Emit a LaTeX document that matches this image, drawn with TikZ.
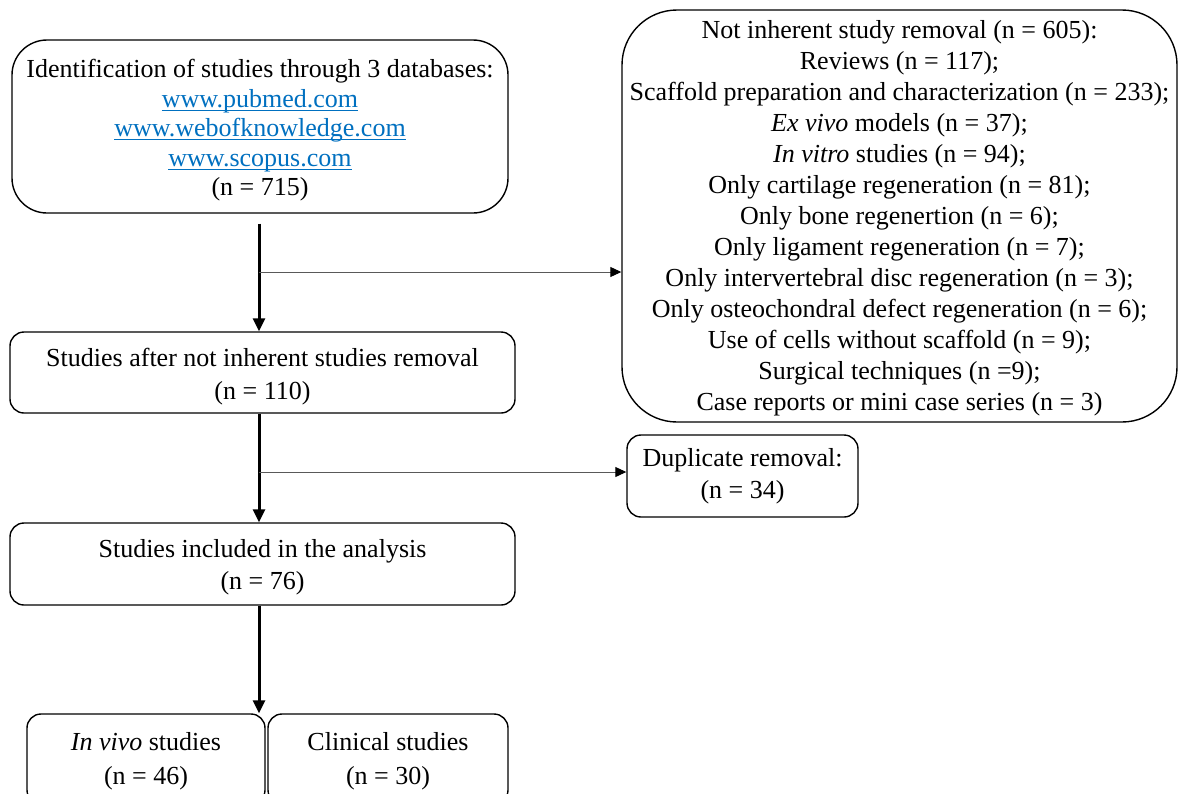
\documentclass[tikz,border=0pt]{standalone}
\usepackage{fontspec}
\setmainfont{Liberation Serif}
\usetikzlibrary{arrows.meta,calc}
\definecolor{linkblue}{RGB}{0,112,192}
\newcommand{\lnk}[1]{\textcolor{linkblue}{\setbox0\hbox{#1}\rlap{\rule[-3.5pt]{\wd0}{1.1pt}}\box0}}
\newcommand{\pushdown}[1]{\rule{0pt}{#1}}
\begin{document}
\begin{tikzpicture}[x=1pt,y=1pt,
  box/.style={draw, line width=1.4pt, rounded corners=#1, align=center, inner sep=0pt,
    font=\fontsize{26}{29.5}\selectfont},
  thk/.style={line width=3pt, -{Triangle[length=13pt,width=12pt]}},
  thn/.style={line width=1pt, draw=black!65, -{Triangle[length=11pt,width=10pt,color=black]}}]
\clip (0,0) rectangle (1180,-793);
\fill[white] (0,0) rectangle (1180,-793);
\coordinate (col) at (259,0);
\node[box=35pt, minimum width=496pt, minimum height=173pt] (ident) at (260,-126.5)
  {\pushdown{26pt}Identification of studies through 3 databases:\\ \lnk{www.pubmed.com}\\ \lnk{www.webofknowledge.com}\\ \lnk{www.scopus.com}\\ (n = 715)};
\node[box=55pt, minimum width=555pt, minimum height=412pt, font=\fontsize{26}{31}\selectfont] (big) at (899.5,-216)
  {\pushdown{22pt}Not inherent study removal (n = 605):\\ Reviews (n = 117);\\ Scaffold preparation and characterization (n = 233);\\
   \textit{Ex vivo} models (n = 37);\\ \textit{In vitro} studies (n = 94);\\ Only cartilage regeneration (n = 81);\\
   Only bone regenertion (n = 6);\\ Only ligament regeneration (n = 7);\\ Only intervertebral disc regeneration (n = 3);\\
   Only osteochondral defect regeneration (n = 6);\\ Use of cells without scaffold (n = 9);\\ Surgical techniques (n =9);\\
   Case reports or mini case series (n = 3)};
\node[box=14pt, minimum width=505pt, minimum height=81pt, font=\fontsize{26}{33}\selectfont] (box2) at (262.5,-372.5)
  {\pushdown{26pt}Studies after not inherent studies removal\\ (n = 110)};
\node[box=14pt, minimum width=231pt, minimum height=82pt, font=\fontsize{26}{32}\selectfont] (dup) at (742.5,-476)
  {Duplicate removal:\\ (n = 34)};
\node[box=14pt, minimum width=505pt, minimum height=82pt, font=\fontsize{26}{32}\selectfont] (box3) at (262.5,-564)
  {\pushdown{24pt}Studies included in the analysis\\ (n = 76)};
\node[box=14pt, minimum width=238pt, minimum height=90pt, font=\fontsize{26}{34}\selectfont] (invivo) at (146,-759)
  {\pushdown{23pt}\textit{In vivo} studies\\ (n = 46)};
\node[box=14pt, minimum width=240pt, minimum height=90pt, font=\fontsize{26}{34}\selectfont] (clin) at (388,-759)
  {\pushdown{23pt}Clinical studies\\ (n = 30)};
\draw[thk] ($(ident.south -| col)+(0,-10)$) -- (box2.north -| col);
\draw[thk] (box2.south -| col) -- (box3.north -| col);
\draw[thk] (box3.south -| col) -- (invivo.north -| col);
\coordinate (j1) at (259,-272);
\coordinate (j2) at (259,-472);
\draw[thn] (j1) -- (j1 -| big.west);
\draw[thn] (j2) -- (j2 -| dup.west);
\end{tikzpicture}
\end{document}
